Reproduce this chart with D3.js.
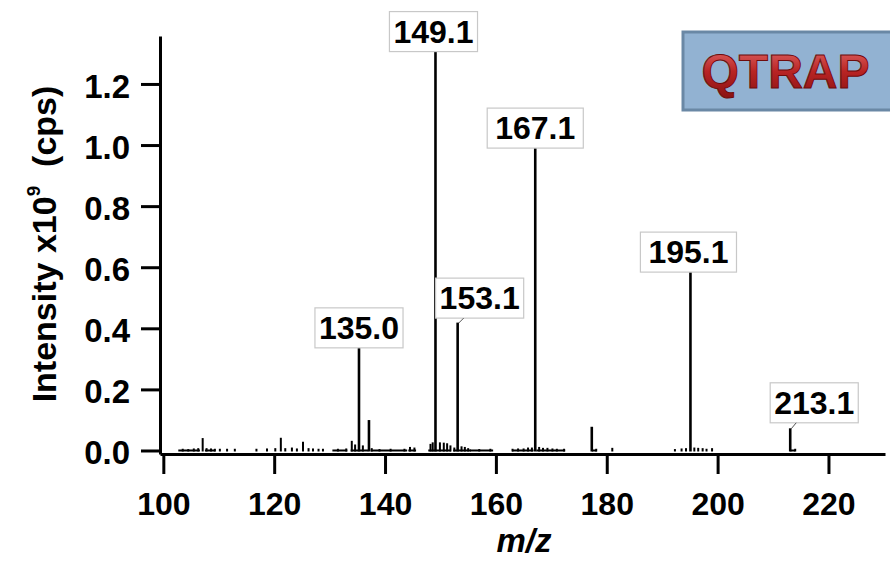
<!DOCTYPE html>
<html>
<head>
<meta charset="utf-8">
<script src="https://cdn.jsdelivr.net/npm/d3@7"></script>
<style>
  body { margin: 0; background: #fff; }
  svg { display: block; font-family: "Liberation Sans", Arial, sans-serif; }
</style>
</head>
<body>
<div id="chart"></div>
<script>
// spectrum sticks (m/z, intensity x10^9 cps)
const peakMz = [103.5, 104.5, 105.5, 106.3, 107.1, 107.8, 108.6, 109.3, 110.2, 111.5, 112.9,
  116.8, 118.7, 120.2, 121.2, 122.0, 123.2, 124.1, 125.2, 126.2, 127.0, 128.0, 128.8,
  131.5, 133.0, 134.0, 134.6, 135.3, 136.0, 137.1, 137.6, 139.0, 141.0, 143.5, 144.5, 145.3,
  148.2, 148.6, 149.1, 149.9, 150.6, 151.2, 151.8, 152.5, 153.1, 153.8, 154.4, 155.0, 157.0, 159.0,
  163.0, 164.0, 165.0, 165.8, 166.5, 167.1, 167.8, 168.5, 169.3, 170.2, 171.0, 172.3,
  177.3, 178.1, 181.0, 192.3, 193.5, 194.3, 195.1, 195.8, 196.5, 197.3, 198.0, 199.0,
  213.1, 214.0];
const peakInt = [0.004, 0.003, 0.005, 0.006, 0.039, 0.006, 0.005, 0.004, 0.004, 0.004, 0.004,
  0.004, 0.005, 0.006, 0.040, 0.006, 0.008, 0.005, 0.027, 0.006, 0.005, 0.004, 0.004,
  0.004, 0.005, 0.030, 0.018, 0.336, 0.015, 0.098, 0.006, 0.003, 0.004, 0.004, 0.010, 0.008,
  0.020, 0.025, 1.306, 0.025, 0.024, 0.022, 0.015, 0.008, 0.417, 0.012, 0.010, 0.006, 0.003, 0.004,
  0.004, 0.005, 0.005, 0.008, 0.008, 0.990, 0.010, 0.007, 0.007, 0.005, 0.004, 0.004,
  0.076, 0.004, 0.007, 0.003, 0.005, 0.006, 0.584, 0.008, 0.007, 0.006, 0.004, 0.006,
  0.071, 0.004];

// baseline (zero-level) stretches of the profile trace
const baseStart = [102.7, 107.5, 130.5, 133.8, 137.4, 144.2, 147.8, 152.3, 155.3, 162.9, 167.3, 177.3, 213.1];
const baseEnd   = [106.6, 109.4, 133.2, 137.0, 144.0, 145.6, 151.9, 155.5, 159.5, 166.8, 172.5, 178.2, 214.0];

// annotated peaks
const labelMz   = [135.3, 149.1, 153.1, 167.1, 195.1, 213.1];
const labelInt  = [0.336, 1.306, 0.417, 0.990, 0.584, 0.071];
const labelText = ["135.0", "149.1", "153.1", "167.1", "195.1", "213.1"];

const xTicks = [100, 120, 140, 160, 180, 200, 220];
const yTicks = [0, 0.2, 0.4, 0.6, 0.8, 1.0, 1.2];

// label box layout: horizontal shift, gap above peak, extra padding
const labelDx  = [0, -2, 22, 0, -2, 24];
const labelGap = [0, 0, 5, 0, 0, 6];
const labelPad = [8, 8, 8, 16, 16, 8];

const width = 890, height = 562;

const x = d3.scaleLinear().domain([99.4, 230.2]).range([160, 885]);
const y = d3.scaleLinear().domain([-0.0115, 1.357]).range([454, 36]);

const svg = d3.select("#chart").append("svg")
  .attr("width", width)
  .attr("height", height);

// axes
const yAxis = svg.append("g")
  .attr("transform", "translate(160,0)")
  .call(d3.axisLeft(y).tickValues(yTicks).tickFormat(d3.format(".1f"))
    .tickSize(19).tickPadding(11).tickSizeOuter(0));
yAxis.selectAll("path, line").attr("stroke", "#000").attr("stroke-width", 3);
yAxis.selectAll("text")
  .attr("font-size", 33).attr("font-weight", "bold").attr("fill", "#000")
  .attr("dy", "0.4em").attr("font-family", "'Liberation Sans', Arial, sans-serif");

const xAxis = svg.append("g")
  .attr("transform", "translate(0,454)")
  .call(d3.axisBottom(x).tickValues(xTicks).tickFormat(d3.format("d"))
    .tickSize(20).tickPadding(18).tickSizeOuter(0));
xAxis.selectAll("path, line").attr("stroke", "#000").attr("stroke-width", 3);
xAxis.selectAll("text")
  .attr("font-size", 32).attr("font-weight", "bold").attr("fill", "#000")
  .attr("font-family", "'Liberation Sans', Arial, sans-serif");

// baseline stretches
svg.append("g")
  .selectAll("line")
  .data(d3.range(baseStart.length))
  .join("line")
    .attr("x1", i => x(baseStart[i]))
    .attr("x2", i => x(baseEnd[i]))
    .attr("y1", y(0))
    .attr("y2", y(0))
    .attr("stroke", "#000")
    .attr("stroke-width", 2);

// sticks
svg.append("g")
  .selectAll("line")
  .data(d3.range(peakMz.length))
  .join("line")
    .attr("x1", i => x(peakMz[i]))
    .attr("x2", i => x(peakMz[i]))
    .attr("y1", y(0) + 1)
    .attr("y2", i => y(peakInt[i]) - 0.5)
    .attr("stroke", "#000")
    .attr("stroke-width", i => peakInt[i] > 0.05 ? 2.6 : 2);

// peak labels
const lab = svg.append("g")
  .selectAll("g")
  .data(d3.range(labelMz.length))
  .join("g");

lab.each(function(i) {
  const g = d3.select(this);
  const px = x(labelMz[i]);
  const py = y(labelInt[i]);
  const boxH = 40;
  const cx = px + labelDx[i];
  const bottom = py - labelGap[i];
  const rect = g.append("rect");
  const t = g.append("text")
    .attr("x", cx)
    .attr("y", bottom - 9)
    .attr("text-anchor", "middle")
    .attr("font-size", 32)
    .attr("font-weight", "bold")
    .attr("fill", "#000")
    .text(labelText[i]);
  const w = t.node().getComputedTextLength() + labelPad[i];
  rect.attr("x", cx - w / 2)
    .attr("y", bottom - boxH)
    .attr("width", w)
    .attr("height", boxH)
    .attr("fill", "#fff")
    .attr("stroke", "#c8c8c8")
    .attr("stroke-width", 1.2);
  if (labelGap[i] > 0) {
    g.append("line")
      .attr("x1", px + 1).attr("y1", py)
      .attr("x2", px + 6).attr("y2", bottom)
      .attr("stroke", "#555")
      .attr("stroke-width", 1);
  }
});

// axis titles
const yTitle = svg.append("text")
  .attr("transform", "translate(56,244) rotate(-90)")
  .attr("text-anchor", "middle")
  .attr("font-size", 34)
  .attr("font-weight", "bold")
  .attr("fill", "#000");
yTitle.append("tspan").text("Intensity x10");
yTitle.append("tspan").attr("font-size", 19).attr("dy", -16).text("9");
yTitle.append("tspan").attr("dy", 16).text("\u00a0\u00a0(cps)");

svg.append("text")
  .attr("x", 524)
  .attr("y", 552)
  .attr("text-anchor", "middle")
  .attr("font-size", 33)
  .attr("font-weight", "bold")
  .attr("font-style", "italic")
  .attr("fill", "#000")
  .text("m/z");

// QTRAP badge
const defs = svg.append("defs");
const grad = defs.append("linearGradient")
  .attr("id", "qgrad").attr("x1", 0).attr("y1", 0).attr("x2", 0).attr("y2", 1);
grad.append("stop").attr("offset", "0%").attr("stop-color", "#e46a6a");
grad.append("stop").attr("offset", "50%").attr("stop-color", "#b82424");
grad.append("stop").attr("offset", "100%").attr("stop-color", "#8a1212");

svg.append("rect")
  .attr("x", 683)
  .attr("y", 32)
  .attr("width", 215)
  .attr("height", 78)
  .attr("fill", "#92b2d2")
  .attr("stroke", "#6a88a5")
  .attr("stroke-width", 3);

svg.append("text")
  .attr("x", 785.5)
  .attr("y", 88)
  .attr("text-anchor", "middle")
  .attr("font-size", 48)
  .attr("font-weight", "bold")
  .attr("fill", "url(#qgrad)")
  .attr("stroke", "#6e0c0c")
  .attr("stroke-width", 1)
  .text("QTRAP");
</script>
</body>
</html>
